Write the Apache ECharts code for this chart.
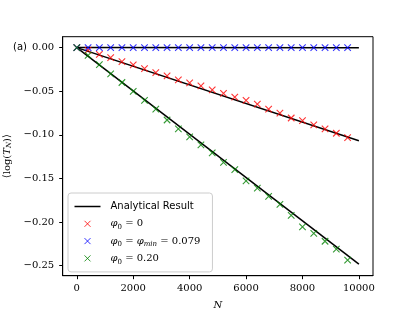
<!DOCTYPE html>
<html>
<head>
<meta charset="utf-8">
<script src="https://cdn.jsdelivr.net/npm/echarts@6/dist/echarts.min.js"></script>
<style>html,body{margin:0;padding:0;background:#fff}#c{width:415px;height:311px}</style>
</head>
<body>
<div id="c"></div>
<script>
// ---- data ----
const N = [0,400,800,1200,1600,2000,2400,2800,3200,3600,4000,4400,4800,5200,5600,6000,6400,6800,7200,7600,8000,8400,8800,9200,9600];
const redPts = [0,-0.0030,-0.0077,-0.0114,-0.0160,-0.0199,-0.0240,-0.0286,-0.0324,-0.0370,-0.0404,-0.0438,-0.0484,-0.0525,-0.0568,-0.0605,-0.0647,-0.0705,-0.0750,-0.0807,-0.0838,-0.0887,-0.0933,-0.0982,-0.1032];
const bluePts = [0,0,0,0,-0.0001,0,0,-0.0001,0,0,-0.0001,0,0,-0.0001,0,0,-0.0001,0,0,-0.0001,0,-0.0001,0,0,-0.0001];
const greenPts = [0,-0.0088,-0.0194,-0.0301,-0.0400,-0.0502,-0.0605,-0.0705,-0.0830,-0.0933,-0.1024,-0.1114,-0.1207,-0.1317,-0.1400,-0.1527,-0.1610,-0.1706,-0.1798,-0.1923,-0.2056,-0.2129,-0.2220,-0.2311,-0.2437];
const lineN = [0,10000];
const redLine = [0,-0.1067];
const blueLine = [0,-0.0003];
const greenLine = [0,-0.2483];
const xTicks = [0,2000,4000,6000,8000,10000];
const yTicks = [0,-0.05,-0.10,-0.15,-0.20,-0.25];
const names = ['Analytical Result','phi0','phimin','phi20'];

const zip = (a,b)=>a.map((v,i)=>[v,b[i]]);
const cross = 'path://M0,0L10,10M10,0L0,10';
const legCross = 'path://M0,0M26,14M10,4L16,10M16,4L10,10';
const legLine = 'path://M0,0M26,14M0,7L26,7';
function scatter(name, data, col){
  return {type:'scatter', name, data, symbol:cross, symbolSize:6.5, z:5,
    itemStyle:{color:'none', borderColor:col, borderWidth:1.1}};
}
function line(data){
  return {type:'line', name:names[0], data, symbol:'none', z:3,
    lineStyle:{color:'#000', width:1.5}, itemStyle:{color:'#000'}};
}
const sub = {fontFamily:'DejaVu Serif', fontSize:7, color:'#000', verticalAlign:'bottom', lineHeight:12};
const chart = echarts.init(document.getElementById('c'));
chart.setOption({
  animation:false,
  grid:{left:62.7, right:42, top:36.7, bottom:35.3, show:true, borderColor:'#000', borderWidth:1,
    backgroundColor:'transparent', outerBoundsMode:'none', containLabel:false},
  xAxis:{type:'value', min:-500, max:10500,
    name:'N', nameLocation:'middle', nameGap:25,
    nameTextStyle:{fontFamily:'DejaVu Serif', fontStyle:'italic', fontSize:10, color:'#000'},
    axisLine:{show:true, onZero:false, lineStyle:{color:'#000'}},
    axisTick:{show:true, length:3.5, customValues:xTicks, lineStyle:{color:'#000'}},
    axisLabel:{customValues:xTicks, fontFamily:'DejaVu Serif', fontSize:10, color:'#000', margin:8,
      formatter:v=>String(Math.round(v))},
    splitLine:{show:false}},
  yAxis:{type:'value', min:-0.2615, max:0.0125,
    name:'{a|⟨log(}{i|T}{s|N}{a|)⟩}', nameLocation:'middle', nameGap:48, nameRotate:90,
    nameTextStyle:{rich:{
      a:{fontFamily:'DejaVu Serif', fontSize:10, color:'#000'},
      i:{fontFamily:'DejaVu Serif', fontStyle:'italic', fontSize:10, color:'#000'},
      s:{fontFamily:'DejaVu Serif', fontStyle:'italic', fontSize:7, color:'#000', verticalAlign:'bottom', padding:[4,0,0,0]}}},
    axisLine:{show:true, onZero:false, lineStyle:{color:'#000'}},
    axisTick:{show:true, length:3.5, customValues:yTicks, lineStyle:{color:'#000'}},
    axisLabel:{customValues:yTicks, fontFamily:'DejaVu Serif', fontSize:10, color:'#000', margin:8.5,
      formatter:v=>(v<0?'\u2212':'')+Math.abs(v).toFixed(2)},
    splitLine:{show:false}},
  legend:{orient:'vertical', left:68, top:193, itemWidth:26, itemHeight:14, itemGap:-1.7,
    padding:[4,12,4,4], borderColor:'#ccc', borderWidth:1, borderRadius:3, backgroundColor:'rgba(255,255,255,0.85)',
    data:[
      {name:names[0], icon:legLine, itemStyle:{color:'none', borderColor:'#000', borderWidth:1.5}},
      {name:names[1], icon:legCross, itemStyle:{color:'none', borderColor:'#ff0000', borderWidth:1}},
      {name:names[2], icon:legCross, itemStyle:{color:'none', borderColor:'#0000ff', borderWidth:1}},
      {name:names[3], icon:legCross, itemStyle:{color:'none', borderColor:'#008000', borderWidth:1}}
    ],
    textStyle:{color:'#000', fontSize:10, lineHeight:14, padding:[0,0,0,5], rich:{
      t:{fontFamily:'DejaVu Sans', fontSize:10, color:'#000', lineHeight:14},
      i:{fontFamily:'DejaVu Serif', fontStyle:'italic', fontSize:10, color:'#000', lineHeight:14},
      n:{fontFamily:'DejaVu Serif', fontSize:10, color:'#000', lineHeight:14},
      s:sub,
      si:Object.assign({}, sub, {fontStyle:'italic'})}},
    formatter:function(nm){
      if(nm===names[0]) return '{t|Analytical Result}';
      if(nm===names[1]) return '{i|φ}{s|0}{n| = 0}';
      if(nm===names[2]) return '{i|φ}{s|0}{n| = }{i|φ}{si|min}{n| = 0.079}';
      return '{i|φ}{s|0}{n| = 0.20}';
    }},
  graphic:[{type:'text', left:13, top:42, style:{text:'(a)', font:'10px "DejaVu Sans"', fill:'#000'}}],
  series:[
    line(zip(lineN, redLine)),
    line(zip(lineN, blueLine)),
    line(zip(lineN, greenLine)),
    scatter(names[1], zip(N, redPts), '#ff0000'),
    scatter(names[2], zip(N, bluePts), '#0000ff'),
    scatter(names[3], zip(N, greenPts), '#008000')
  ]
});
</script>
</body>
</html>
